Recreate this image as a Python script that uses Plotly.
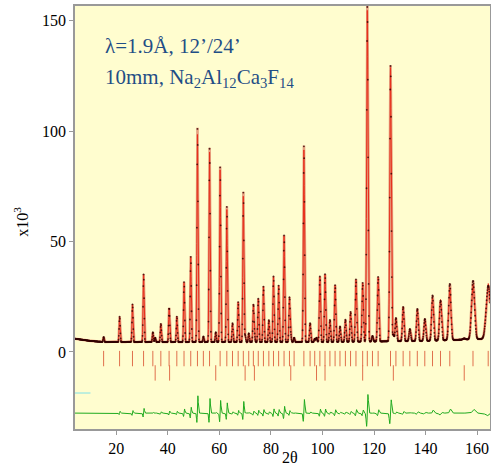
import numpy as np
import plotly.graph_objects as go

# ---- data ----
# main phase reflections (2theta, deg) and net peak heights (x10^3 counts)
peak_pos = [15.1, 21.3, 26.3, 30.6, 34.2, 37.3, 40.5, 43.5, 46.3, 48.9, 51.5, 53.8,
            56.2, 60.3, 62.9, 65.1, 67.3, 69.3, 71.4, 73.2, 75.1, 77.1, 79.2, 81.0,
            83.0, 85.1, 87.2, 89.0, 92.8, 95.2, 97.0, 99.0, 101.0, 102.9, 104.9, 106.8,
            108.9, 110.9, 113.0, 115.6, 117.4, 119.4, 121.6, 126.4, 128.5, 131.3, 133.9,
            136.8, 139.7, 142.7, 145.8, 149.4, 158.4, 164.3]
calc_height = [2.3, 11.4, 17, 30.5, 4.5, 8.2, 13.5, 11.5, 27, 38.4, 94, 2.5,
               86, 78, 60, 8.5, 18, 66, 4, 16.5, 19.5, 25, 10, 29.5,
               25.5, 48, 20, 2, 87, 8.5, 1.5, 29.5, 27.5, 10, 25.5, 7,
               10, 13.5, 28, 23.5, 150, 2.5, 29, 124, 10.5, 15.5, 5.5,
               14.5, 10, 19.5, 18.5, 24, 25, 25]
obs_height = [2.3, 11.5, 17.1, 30.8, 4.5, 8.3, 13.6, 11.6, 27.3, 38.8, 97, 2.5,
              88, 79.5, 61.5, 8.6, 18.2, 68, 4, 16.6, 19.7, 25.2, 10, 29.8,
              25.7, 48.5, 20.2, 2, 89, 8.6, 1.5, 29.8, 27.8, 10, 25.8, 7,
              10, 13.6, 28.3, 23.7, 152, 2.5, 29.3, 125, 10.6, 15.6, 5.5,
              14.6, 10, 20.5, 18.0, 25.5, 26.5, 24.0]
# second phase reflections
phase2_pos = [35.1, 40.7, 58.6, 70.0, 73.6, 87.7, 97.7, 101.0, 115.6, 127.5, 155.0]
phase2_height = [2, 3, 4.5, 3, 3, 3, 2, 3, 3, 3, 0.5]
# background points
bg_x = [4, 10, 15, 30, 100, 140, 160, 165]
bg_y = [6.0, 5.0, 4.5, 4.5, 4.5, 5.0, 5.8, 6.0]

x_ticks = [20, 40, 60, 80, 100, 120, 140, 160]
y_ticks = [0, 50, 100, 150]

# ---- profile model ----
tt = np.arange(4.0, 165.0001, 0.02)
U, W = 0.06, 0.2
ZERO_SHIFT = 0.02


def fwhm(p):
    t = np.tan(np.radians(np.asarray(p) / 2.0))
    return np.sqrt(U * t * t + W)


def profile(pos, hts, shift=0.0):
    y = np.zeros_like(tt)
    for p, h in zip(pos, hts):
        f = fwhm(p)
        y += h * np.exp(-4 * np.log(2) * (tt - p - shift) ** 2 / f ** 2)
    return y


bg = np.interp(tt, bg_x, bg_y)
calc = bg + profile(peak_pos, calc_height) + profile(phase2_pos, phase2_height)
obs = bg + profile(peak_pos, obs_height, ZERO_SHIFT) + profile(phase2_pos, phase2_height, ZERO_SHIFT)
diff = obs - calc

DIFF_OFFSET = -27.7
step = 5

fig = go.Figure()
fig.add_trace(go.Scatter(x=tt, y=obs, mode="lines",
                         line=dict(color="#E6A080", width=2.6),
                         hoverinfo="skip", showlegend=False))
fig.add_trace(go.Scatter(x=tt, y=calc, mode="lines",
                         line=dict(color="#E8301C", width=1),
                         hoverinfo="skip", showlegend=False))
fig.add_trace(go.Scatter(x=tt[::step], y=obs[::step], mode="markers",
                         marker=dict(size=1.8, color="rgba(50,0,0,0.8)"),
                         hoverinfo="skip", showlegend=False))
fig.add_trace(go.Scatter(x=peak_pos, y=[-3.0] * len(peak_pos), mode="markers",
                         marker=dict(symbol="line-ns-open", size=11, color="#E0704C",
                                     line=dict(color="#E0704C", width=1)),
                         showlegend=False))
fig.add_trace(go.Scatter(x=phase2_pos, y=[-9.5] * len(phase2_pos), mode="markers",
                         marker=dict(symbol="line-ns-open", size=11, color="#E0704C",
                                     line=dict(color="#E0704C", width=1)),
                         showlegend=False))
fig.add_trace(go.Scatter(x=[4, 10], y=[-18.6, -18.6], mode="lines",
                         line=dict(color="#7FE0E8", width=1), showlegend=False))
fig.add_trace(go.Scatter(x=tt, y=diff + DIFF_OFFSET, mode="lines",
                         line=dict(color="#1FAA1F", width=1),
                         hoverinfo="skip", showlegend=False))

font_serif = "Liberation Serif, Times New Roman, serif"
fig.update_layout(
    width=491, height=465,
    margin=dict(l=75, r=1, t=6, b=36, autoexpand=False),
    paper_bgcolor="white", plot_bgcolor="#FFFDCF",
    font=dict(family=font_serif, size=16, color="black"),
    xaxis=dict(range=[4, 165], tickvals=x_ticks, ticks="outside", ticklen=4,
               tickcolor="#999999", showgrid=False, zeroline=False, automargin=False,
               showline=True, linecolor="#999999", linewidth=1.5, mirror=True,
               tickfont=dict(size=16)),
    yaxis=dict(range=[-34.9, 156.7], tickvals=y_ticks, ticks="outside", ticklen=4,
               tickcolor="#999999", showgrid=False, zeroline=False, automargin=False,
               showline=True, linecolor="#999999", linewidth=1.5, mirror=True,
               tickfont=dict(size=16)),
    annotations=[
        dict(xref="paper", yref="paper", x=0.067, y=0.905, xanchor="left", yanchor="middle",
             text="λ=1.9Å, 12’/24’", showarrow=False,
             font=dict(family=font_serif, size=21, color="#1F4E86")),
        dict(xref="paper", yref="paper", x=0.067, y=0.83, xanchor="left", yanchor="middle",
             text="10mm, Na<sub>2</sub>Al<sub>12</sub>Ca<sub>3</sub>F<sub>14</sub>", showarrow=False,
             font=dict(family=font_serif, size=21, color="#1F4E86")),
        dict(xref="paper", yref="paper", x=0.518, y=-0.068, xanchor="center", yanchor="middle",
             text="2θ", showarrow=False, font=dict(family=font_serif, size=16)),
        dict(xref="paper", yref="paper", x=-0.13, y=0.49, xanchor="center", yanchor="middle",
             text="x10<sup>3</sup>", textangle=-90, showarrow=False,
             font=dict(family=font_serif, size=16)),
    ],
)

fig.write_html("out.html", config={"displayModeBar": False},
               post_script="document.body.style.margin='0';document.body.style.overflow='hidden';")
